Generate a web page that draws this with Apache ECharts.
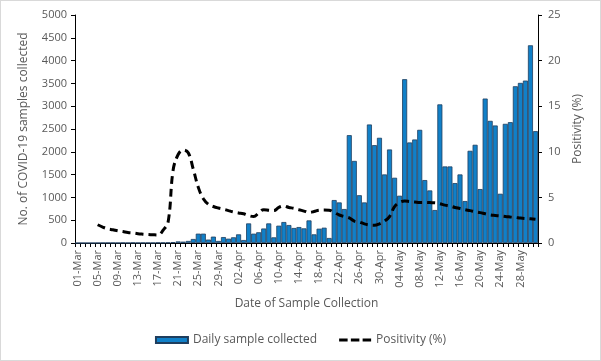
<!DOCTYPE html>
<html><head><meta charset="utf-8">
<script src="https://cdn.jsdelivr.net/npm/echarts@6/dist/echarts.min.js"></script>
<style>
html,body{margin:0;padding:0;background:#fff;}
#wrap{width:601px;height:361px;box-sizing:border-box;border:1px solid #d9d9d9;position:relative;}
#chart{position:absolute;left:-1px;top:-1px;width:601px;height:361px;}
</style></head>
<body><div id="wrap"><div id="chart"></div></div>
<script>
const dates = [
"01-Mar","02-Mar","03-Mar","04-Mar","05-Mar","06-Mar","07-Mar","08-Mar","09-Mar","10-Mar",
"11-Mar","12-Mar","13-Mar","14-Mar","15-Mar","16-Mar","17-Mar","18-Mar","19-Mar","20-Mar",
"21-Mar","22-Mar","23-Mar","24-Mar","25-Mar","26-Mar","27-Mar","28-Mar","29-Mar","30-Mar","31-Mar",
"01-Apr","02-Apr","03-Apr","04-Apr","05-Apr","06-Apr","07-Apr","08-Apr","09-Apr","10-Apr",
"11-Apr","12-Apr","13-Apr","14-Apr","15-Apr","16-Apr","17-Apr","18-Apr","19-Apr","20-Apr",
"21-Apr","22-Apr","23-Apr","24-Apr","25-Apr","26-Apr","27-Apr","28-Apr","29-Apr","30-Apr",
"01-May","02-May","03-May","04-May","05-May","06-May","07-May","08-May","09-May","10-May",
"11-May","12-May","13-May","14-May","15-May","16-May","17-May","18-May","19-May","20-May",
"21-May","22-May","23-May","24-May","25-May","26-May","27-May","28-May","29-May","30-May","31-May"];

const dailySamples = [
0,0,0,0,2,3,5,4,3,6,4,8,5,5,6,4,10,8,12,
20,35,30,
45,88,205,205,75,140,45,130,95,125,190,65,430,205,235,318,
430,124,380,460,394,329,350,321,496,190,314,336,110,942,890,745,2365,1800,1048,
890,2599,2146,2307,1504,2051,1431,1037,3592,2205,2270,2482,1380,1153,723,3040,
1679,1679,1314,1504,920,2022,2154,1183,3168,2679,2577,1080,2613,2650,3438,3511,3562,4336,2453];

const positivity = [
null,null,null,null,
2.0,1.75,1.55,1.45,1.33,1.25,1.15,1.1,1.02,0.97,0.93,0.9,0.88,1.4,2.3,8.0,
9.7,10.2,9.9,8.1,6.1,4.85,4.25,4.0,3.83,3.7,3.55,3.4,3.3,3.2,3.0,2.9,
3.3,3.65,3.6,3.55,3.9,4.05,3.9,3.8,3.65,3.5,3.35,3.45,3.6,3.62,3.6,
3.35,3.07,2.9,2.75,2.4,2.3,2.1,1.98,1.95,2.1,2.4,2.9,4.0,4.45,4.6,
4.55,4.5,4.45,4.45,4.43,4.42,4.3,4.15,4.05,3.9,3.78,3.65,3.55,3.43,3.33,
3.2,3.08,3.02,2.97,2.9,2.85,2.8,2.73,2.68,2.65,2.6];

const leftTicks = {min:0, max:5000, interval:500};
const rightTicks = {min:0, max:25, interval:5};

const FONT = "'Open Sans', 'Liberation Sans', sans-serif";
const GREY = '#595959';
const dashIcon = 'path://M0,0L0,0M32,6L32,6M0,1.5h8.5v3h-8.5zM11.75,1.5h8.5v3h-8.5zM23.5,1.5h8.5v3h-8.5z';
const chart = echarts.init(document.getElementById('chart'), null, {renderer:'canvas'});
chart.setOption({
  animation:false,
  textStyle:{fontFamily:FONT},
  grid:{left:75, right:63, top:15, bottom:118},
  legend:{
    left:'center', top:329, itemGap:22, itemWidth:32, itemHeight:6,
    textStyle:{color:GREY, fontSize:12, fontFamily:FONT},
    data:[
      {name:'Daily sample collected', icon:'rect'},
      {name:'Positivity (%)', icon:dashIcon, itemStyle:{color:'#000', borderWidth:0}}
    ]
  },
  xAxis:{
    type:'category', data:dates, boundaryGap:true,
    name:'Date of Sample Collection', nameLocation:'middle', nameGap:55,
    nameTextStyle:{color:GREY, fontSize:12, fontFamily:FONT},
    axisLine:{lineStyle:{color:'#000', width:1}},
    axisTick:{show:true, interval:0, length:4, lineStyle:{color:'#000'}},
    axisLabel:{interval:3, rotate:90, color:GREY, fontSize:11, margin:7, fontFamily:FONT},
    splitLine:{show:false}
  },
  yAxis:[{
    type:'value', min:leftTicks.min, max:leftTicks.max, interval:leftTicks.interval,
    name:'No. of COVID-19 samples collected', nameLocation:'middle', nameGap:45, nameRotate:90,
    nameTextStyle:{color:GREY, fontSize:12, fontFamily:FONT},
    axisLine:{show:true, lineStyle:{color:'#000'}},
    axisTick:{show:true, length:4, lineStyle:{color:'#000'}},
    axisLabel:{color:GREY, fontSize:11, margin:8, fontFamily:FONT, formatter:v => String(v)},
    splitLine:{show:false}
  },{
    type:'value', min:rightTicks.min, max:rightTicks.max, interval:rightTicks.interval, position:'right',
    name:'Positivity (%)', nameLocation:'middle', nameGap:33, nameRotate:90,
    nameTextStyle:{color:GREY, fontSize:12, fontFamily:FONT},
    axisLine:{show:true, lineStyle:{color:'#000'}},
    axisTick:{show:true, length:4, lineStyle:{color:'#000'}},
    axisLabel:{color:GREY, fontSize:11, margin:10, fontFamily:FONT, formatter:v => String(v)},
    splitLine:{show:false}
  }],
  series:[{
    name:'Daily sample collected', type:'bar', data:dailySamples, yAxisIndex:0,
    barCategoryGap:'0%',
    itemStyle:{color:'#1180C8', borderColor:'#1F3E5E', borderWidth:0.8}
  },{
    name:'Positivity (%)', type:'line', data:positivity, yAxisIndex:1,
    smooth:0.4, symbol:'none', connectNulls:false,
    lineStyle:{color:'#000', width:3, type:[8,5]},
    itemStyle:{color:'#000'}
  }]
});
</script></body></html>
